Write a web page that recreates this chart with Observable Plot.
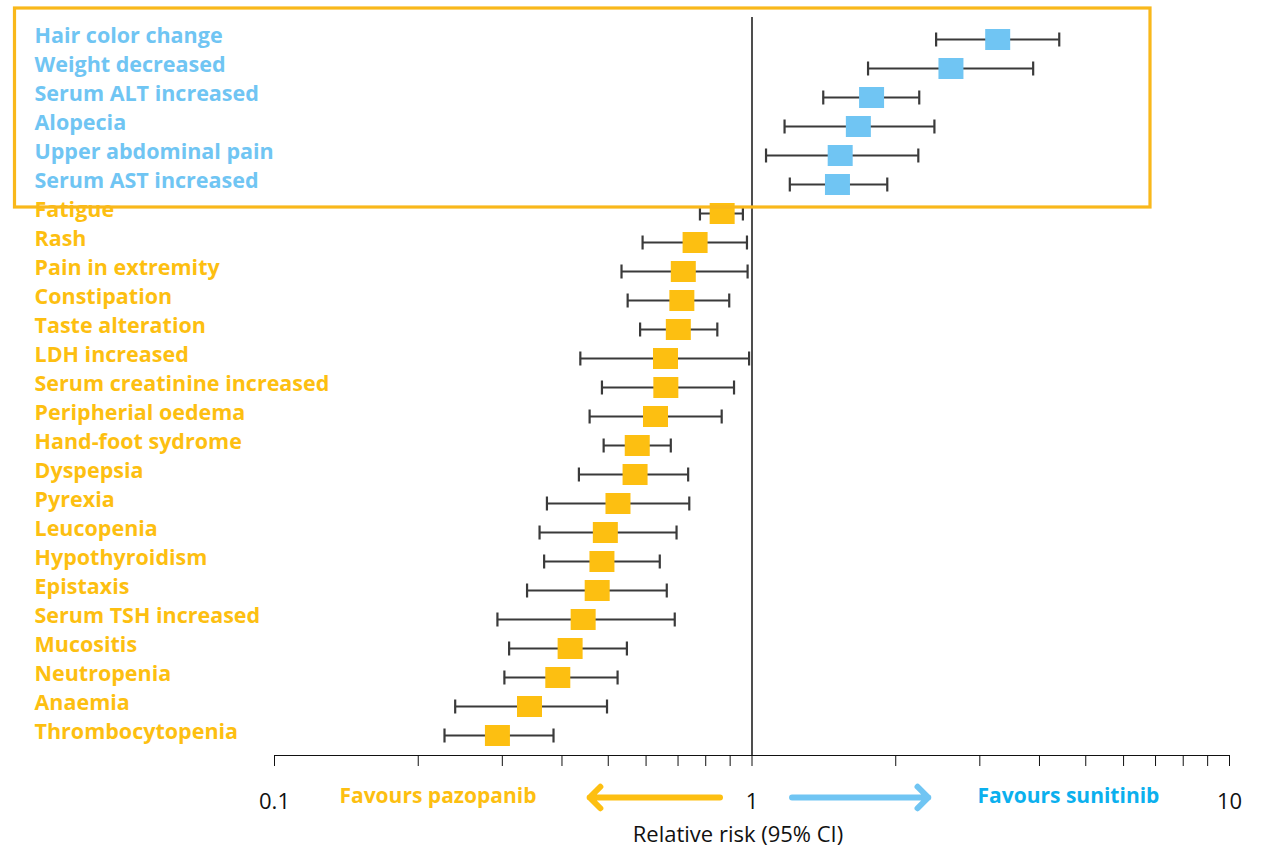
<!DOCTYPE html>
<html>
<head>
<meta charset="utf-8">
<script src="https://cdn.jsdelivr.net/npm/d3@7"></script>
<script src="https://cdn.jsdelivr.net/npm/@observablehq/plot@0.6"></script>
<style>
  body { margin: 0; background: #ffffff; }
  #chart svg { display: block; }
</style>
</head>
<body>
<div id="chart"></div>
<script>
// Adverse events, pazopanib vs sunitinib: relative risk with 95% CI
const events = [
  "Hair color change", "Weight decreased", "Serum ALT increased", "Alopecia",
  "Upper abdominal pain", "Serum AST increased", "Fatigue", "Rash",
  "Pain in extremity", "Constipation", "Taste alteration", "LDH increased",
  "Serum creatinine increased", "Peripherial oedema", "Hand-foot sydrome",
  "Dyspepsia", "Pyrexia", "Leucopenia", "Hypothyroidism", "Epistaxis",
  "Serum TSH increased", "Mucositis", "Neutropenia", "Anaemia", "Thrombocytopenia"
];
const relativeRisk = [
  3.27, 2.61, 1.78, 1.67, 1.53, 1.51, 0.866, 0.760,
  0.718, 0.713, 0.701, 0.659, 0.660, 0.628, 0.575,
  0.569, 0.524, 0.493, 0.485, 0.474, 0.443, 0.416, 0.392, 0.342, 0.293
];
const ciLower = [
  2.43, 1.75, 1.41, 1.17, 1.07, 1.20, 0.778, 0.590,
  0.533, 0.549, 0.583, 0.437, 0.485, 0.457, 0.489,
  0.434, 0.372, 0.359, 0.367, 0.338, 0.293, 0.310, 0.303, 0.239, 0.227
];
const ciUpper = [
  4.40, 3.88, 2.24, 2.41, 2.23, 1.92, 0.957, 0.976,
  0.979, 0.896, 0.846, 0.986, 0.917, 0.864, 0.676,
  0.735, 0.739, 0.695, 0.641, 0.663, 0.689, 0.547, 0.523, 0.497, 0.384
];
const favours = [
  "sunitinib", "sunitinib", "sunitinib", "sunitinib", "sunitinib", "sunitinib",
  "pazopanib", "pazopanib", "pazopanib", "pazopanib", "pazopanib", "pazopanib",
  "pazopanib", "pazopanib", "pazopanib", "pazopanib", "pazopanib", "pazopanib",
  "pazopanib", "pazopanib", "pazopanib", "pazopanib", "pazopanib", "pazopanib",
  "pazopanib"
];

// Log axis: a tick at every 1–9 multiple, labels only at the decades
const axisTicks = [0.1, 0.2, 0.3, 0.4, 0.5, 0.6, 0.7, 0.8, 0.9, 1, 2, 3, 4, 5, 6, 7, 8, 9, 10];
const axisLabels = {0.1: "0.1", 1: "1", 10: "10"};
const axisTitle = "Relative risk (95% CI)";
const directionLabels = ["Favours pazopanib", "Favours sunitinib"];

const colors = {sunitinib: "#70c5f3", pazopanib: "#fdbf11"};
const boxColor = "#f9b81b";
const sunitinibText = "#0bb0ee";
const inkColor = "#3a3a3a";
const fontFamily = "'Open Sans', 'Noto Sans', sans-serif";

const rows = events.map((event, i) => ({
  event,
  rr: relativeRisk[i],
  lo: ciLower[i],
  hi: ciUpper[i],
  group: favours[i]
}));

// Marker shapes (pixel sizes, independent of data)
const squareSymbol = {draw(ctx) { ctx.rect(-12.5, -10.5, 25, 21); }};
const capSymbol = {draw(ctx) { ctx.moveTo(0, -7); ctx.lineTo(0, 7); }};

const last = events[events.length - 1];

const chart = Plot.plot({
  width: 1261,
  height: 852,
  marginLeft: 274,
  marginRight: 32,
  marginTop: 17,
  marginBottom: 97,
  style: {fontFamily, fontSize: "22px", color: "#111", background: "#fff", overflow: "visible"},
  x: {
    type: "log",
    domain: [0.1, 10],
    ticks: axisTicks,
    tickFormat: d => axisLabels[d] ?? "",
    tickSize: 11,
    tickPadding: 27,
    line: true,
    label: null
  },
  y: {
    type: "point",
    domain: events,
    range: [36, 738],
    padding: 0,
    axis: null
  },
  marks: [
    // reference line at relative risk = 1
    Plot.ruleX([1], {stroke: "#222", strokeWidth: 1.6}),
    // confidence intervals with end caps
    Plot.ruleY(rows, {y: "event", x1: "lo", x2: "hi", stroke: inkColor, strokeWidth: 2}),
    Plot.dot(rows, {x: "lo", y: "event", symbol: capSymbol, stroke: inkColor, strokeWidth: 2.2, fill: "none"}),
    Plot.dot(rows, {x: "hi", y: "event", symbol: capSymbol, stroke: inkColor, strokeWidth: 2.2, fill: "none"}),
    // point estimates
    Plot.dot(rows, {x: "rr", y: "event", symbol: squareSymbol, fill: d => colors[d.group], stroke: "none"}),
    // event names, left aligned
    Plot.text(rows, {
      y: "event", text: "event", frameAnchor: "left", textAnchor: "start", dx: -240, dy: -3,
      fill: d => colors[d.group], fontSize: 21.5, fontWeight: "bold", fontFamily
    }),
    // direction annotations under the axis
    Plot.arrow([{a: 0.857, b: 0.457}], {
      x1: "a", x2: "b", y1: () => last, y2: () => last, dy: 62,
      stroke: colors.pazopanib, strokeWidth: 6, headLength: 3.8, headAngle: 90
    }),
    Plot.arrow([{a: 1.213, b: 2.34}], {
      x1: "a", x2: "b", y1: () => last, y2: () => last, dy: 62,
      stroke: colors.sunitinib, strokeWidth: 6, headLength: 3.8, headAngle: 90
    }),
    Plot.text([directionLabels[0]], {
      x: () => 0.22, y: () => last, text: d => d, dy: 61,
      fill: colors.pazopanib, fontSize: 21, fontWeight: "bold", fontFamily
    }),
    Plot.text([directionLabels[1]], {
      x: () => 4.6, y: () => last, text: d => d, dy: 61,
      fill: sunitinibText, fontSize: 21, fontWeight: "bold", fontFamily
    }),
    Plot.text([axisTitle], {
      frameAnchor: "bottom", text: d => d, dx: -14, dy: 86,
      fill: "#111", fontSize: 22, fontFamily
    })
  ]
});

// Outline around the events that favour sunitinib
const y = chart.scale("y");
const firstRow = y.apply(events[0]);
const lastBlue = y.apply(events[favours.lastIndexOf("sunitinib")]);
const boxTop = firstRow - 31;
const boxBottom = lastBlue + 23;
d3.select(chart).append("rect")
  .attr("x", 14.5)
  .attr("y", boxTop)
  .attr("width", 1150 - 14.5)
  .attr("height", boxBottom - boxTop)
  .attr("fill", "none")
  .attr("stroke", boxColor)
  .attr("stroke-width", 3.2);

document.getElementById("chart").append(chart);
</script>
</body>
</html>
